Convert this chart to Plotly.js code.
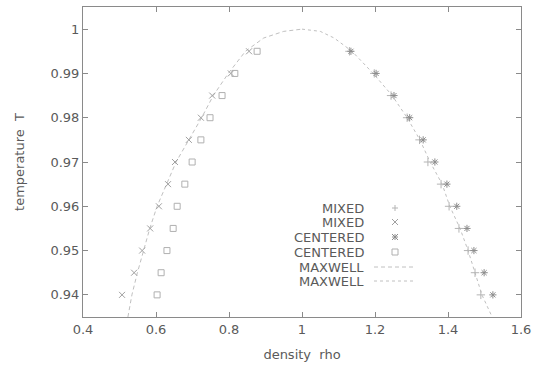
<!DOCTYPE html>
<html>
<head>
<meta charset="utf-8">
<script src="https://cdn.plot.ly/plotly-3.0.1.min.js"></script>
<style>html,body{margin:0;padding:0;background:#fff;}#chart{width:535px;height:365px;}</style>
</head>
<body>
<div id="chart"></div>
<script>
// temperature levels of the simulated points
const tempLevels = [0.94, 0.945, 0.95, 0.955, 0.96, 0.965, 0.97, 0.975, 0.98, 0.985, 0.99, 0.995];
// MIXED scheme, gas branch (x) and liquid branch (+)
const mixedGas    = [0.507, 0.540, 0.562, 0.584, 0.608, 0.633, 0.652, 0.690, 0.723, 0.754, 0.805, 0.855];
const mixedLiquid = [1.490, 1.474, 1.455, 1.430, 1.403, 1.381, 1.345, 1.322, 1.288, 1.244, 1.198, 1.130];
// CENTERED scheme, liquid branch (*) and gas branch (square)
const centeredLiquid = [1.523, 1.499, 1.471, 1.452, 1.424, 1.397, 1.364, 1.332, 1.295, 1.252, 1.203, 1.134];
const centeredGas    = [0.603, 0.614, 0.630, 0.647, 0.658, 0.679, 0.699, 0.723, 0.748, 0.781, 0.816, 0.877];
// MAXWELL construction curves
const maxwellGasT   = [0.935, 0.94, 0.945, 0.95, 0.955, 0.96, 0.965, 0.97, 0.975, 0.98, 0.985, 0.99, 0.995, 0.998, 0.9995, 1.0];
const maxwellGasRho = [0.523, 0.534, 0.549, 0.565, 0.583, 0.603, 0.628, 0.655, 0.690, 0.725, 0.757, 0.798, 0.845, 0.895, 0.950, 1.0];
const maxwellLiqT   = [1.0, 0.9995, 0.998, 0.995, 0.99, 0.985, 0.98, 0.975, 0.97, 0.965, 0.96, 0.955, 0.95, 0.945, 0.94, 0.935];
const maxwellLiqRho = [1.0, 1.050, 1.088, 1.137, 1.195, 1.247, 1.288, 1.323, 1.351, 1.384, 1.405, 1.433, 1.455, 1.474, 1.493, 1.521];
const legendNames = ['MIXED', 'MIXED', 'CENTERED', 'CENTERED', 'MAXWELL', 'MAXWELL'];
const xTickVals = [0.4, 0.6, 0.8, 1.0, 1.2, 1.4, 1.6];
const yTickVals = [0.94, 0.95, 0.96, 0.97, 0.98, 0.99, 1.0];

const plusCol = '#b4b4b4', xCol = '#a0a0a0', starCol = '#8c8c8c', sqCol = '#b0b0b0', curveCol = '#c0c0c0';
function mk(sym, col, size) {
  return {symbol: sym, size: size, color: col, line: {color: col, width: 1}};
}
const traces = [
  {x: maxwellGasRho, y: maxwellGasT, mode: 'lines', line: {color: curveCol, width: 1, dash: '4px,3px'}, hoverinfo: 'skip'},
  {x: maxwellLiqRho, y: maxwellLiqT, mode: 'lines', line: {color: curveCol, width: 1, dash: '3px,3px'}, hoverinfo: 'skip'},
  {x: mixedLiquid, y: tempLevels, mode: 'markers', marker: mk('cross-thin-open', plusCol, 6)},
  {x: mixedGas, y: tempLevels, mode: 'markers', marker: mk('x-thin-open', xCol, 6)},
  {x: centeredLiquid, y: tempLevels, mode: 'markers', marker: mk('asterisk-open', starCol, 6)},
  {x: centeredGas, y: tempLevels, mode: 'markers', marker: mk('square-open', sqCol, 6)}
];

// plot area in pixels: left 83, right 521, top 7, bottom 317
const L = 83, R = 521, T = 7, B = 317;
const px = v => (v - L) / (R - L);
const py = v => (B - v) / (B - T);
const rowsY = [208, 222, 237, 252, 267, 281];
const annotations = legendNames.map((n, i) => ({
  xref: 'paper', yref: 'paper', x: px(366), y: py(rowsY[i]), xanchor: 'right', yanchor: 'middle',
  text: n, showarrow: false, font: {family: 'DejaVu Sans, sans-serif', size: 13, color: '#5a5a5a'}
}));
const shapes = [];
function seg(x0, y0, x1, y1, col, dash) {
  shapes.push({type: 'line', xref: 'paper', yref: 'paper', x0: px(x0), y0: py(y0), x1: px(x1), y1: py(y1),
    line: {color: col, width: 1, dash: dash || 'solid'}});
}
const sx = 395, h = 3;
// + sample
seg(sx - h, rowsY[0], sx + h, rowsY[0], plusCol); seg(sx, rowsY[0] - h, sx, rowsY[0] + h, plusCol);
// x sample
seg(sx - h, rowsY[1] - h, sx + h, rowsY[1] + h, xCol); seg(sx - h, rowsY[1] + h, sx + h, rowsY[1] - h, xCol);
// * sample
seg(sx - h, rowsY[2], sx + h, rowsY[2], starCol); seg(sx, rowsY[2] - h, sx, rowsY[2] + h, starCol);
seg(sx - h, rowsY[2] - h, sx + h, rowsY[2] + h, starCol); seg(sx - h, rowsY[2] + h, sx + h, rowsY[2] - h, starCol);
// square sample
shapes.push({type: 'rect', xref: 'paper', yref: 'paper', x0: px(sx - h), x1: px(sx + h), y0: py(rowsY[3] + h), y1: py(rowsY[3] - h),
  line: {color: sqCol, width: 1}});
// line samples
seg(374, rowsY[4], 416, rowsY[4], curveCol, '4px,3px');
seg(374, rowsY[5], 416, rowsY[5], curveCol, '3px,3px');

const axisCommon = {
  showline: true, mirror: 'ticks', linecolor: '#8a8a8a', linewidth: 1,
  ticks: 'inside', ticklen: 5, tickcolor: '#8a8a8a', tickwidth: 1,
  showgrid: false, zeroline: false,
  tickfont: {family: 'DejaVu Sans, sans-serif', size: 13, color: '#5a5a5a'}
};
const layout = {
  width: 535, height: 365,
  margin: {l: L, r: 535 - R, t: T, b: 365 - B},
  paper_bgcolor: '#fff', plot_bgcolor: '#fff',
  showlegend: false,
  xaxis: Object.assign({}, axisCommon, {
    range: [0.4, 1.6], tickvals: xTickVals, ticktext: xTickVals.map(v => String(+v.toFixed(1))),
    title: {text: 'density\u00a0\u00a0rho', standoff: 14, font: {family: 'DejaVu Sans, sans-serif', size: 13, color: '#5a5a5a'}}
  }),
  yaxis: Object.assign({}, axisCommon, {
    range: [0.935, 1.005], tickvals: yTickVals, ticktext: yTickVals.map(v => String(+v.toFixed(2))),
    title: {text: 'temperature\u00a0\u00a0T', standoff: 22, font: {family: 'DejaVu Sans, sans-serif', size: 13, color: '#5a5a5a'}}
  }),
  annotations: annotations,
  shapes: shapes
};
Plotly.newPlot('chart', traces, layout, {displayModeBar: false, staticPlot: true});
</script>
</body>
</html>
